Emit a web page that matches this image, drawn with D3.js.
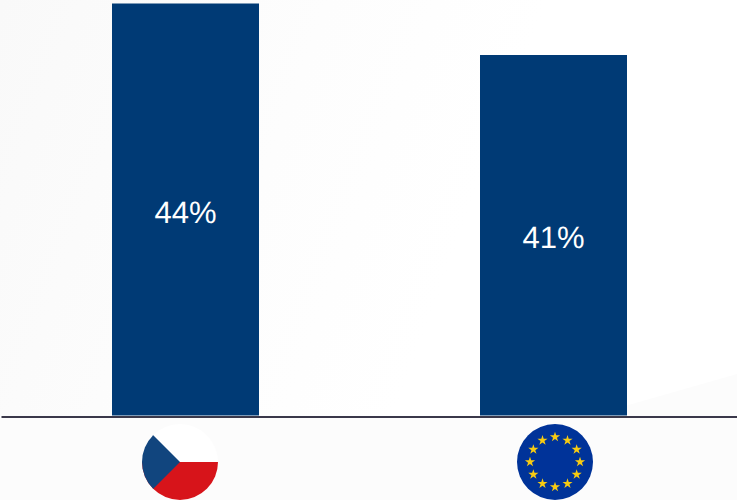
<!DOCTYPE html>
<html>
<head>
<meta charset="utf-8">
<script src="https://cdn.jsdelivr.net/npm/d3@7/dist/d3.min.js"></script>
<style>
html,body{margin:0;padding:0;background:#fff;}
svg{display:block;}
</style>
</head>
<body>
<svg id="chart" width="737" height="500"></svg>
<script>
const categories = ["CZ", "EU"];
const shares = [44, 41];
const valueDomain = [20, 44];

const width = 737, height = 500;
const baseY = 415.5, topY = 3.5;
const barColor = "#003A75";

const svg = d3.select("#chart");

// Soft backdrop: pale grey fading towards white
const defs = svg.append("defs");
const bg = defs.append("linearGradient").attr("id", "backdrop")
  .attr("x1", 0).attr("y1", 0).attr("x2", 1).attr("y2", 0.25);
bg.append("stop").attr("offset", 0).attr("stop-color", "#f9f9f9");
bg.append("stop").attr("offset", 0.42).attr("stop-color", "#fdfdfd");
bg.append("stop").attr("offset", 0.7).attr("stop-color", "#ffffff");
bg.append("stop").attr("offset", 1).attr("stop-color", "#ffffff");
svg.append("rect").attr("width", width).attr("height", height).attr("fill", "url(#backdrop)");

// Paler wedge in the lower corner and the band beneath the baseline
svg.append("path")
  .attr("d", d3.line()([[590, 416], [737, 374], [737, 500], [0, 500], [0, 416]]))
  .attr("fill", "#fcfcfc");

const x = d3.scalePoint().domain(categories).range([185.5, 553.5]);
const bandW = 147;
const y = d3.scaleLinear().domain(valueDomain).range([baseY, topY]);

// Bars and their value labels
const groups = svg.selectAll("g.bar").data(categories.map((c, i) => ({c, v: shares[i]})))
  .join("g").attr("class", "bar");
groups.append("rect")
  .attr("x", d => x(d.c) - bandW / 2)
  .attr("width", bandW)
  .attr("y", d => y(d.v))
  .attr("height", d => baseY - y(d.v))
  .attr("fill", barColor);
groups.append("text")
  .attr("x", d => x(d.c))
  .attr("y", d => (y(d.v) + baseY) / 2 + 13)
  .attr("text-anchor", "middle")
  .attr("font-family", "'Liberation Sans', Arial, sans-serif")
  .attr("font-size", 31)
  .attr("text-rendering", "geometricPrecision")
  .attr("fill", "#ffffff")
  .text(d => d.v + "%");

// Axis baseline
const axis = d3.axisBottom(d3.scaleLinear().domain([0, 1]).range([1, width])).ticks(0).tickSize(0);
const axisG = svg.append("g").attr("transform", `translate(0,${baseY + 1})`).call(axis);
axisG.select(".domain").attr("stroke", "#3a384a").attr("stroke-width", 2);

// Round flag badges under each bar
const flagY = 462, flagR = 38;

const cz = svg.append("g").attr("transform", `translate(${x("CZ") - 5.5},${flagY})`);
const clip = defs.append("clipPath").attr("id", "czClip");
clip.append("circle").attr("r", flagR);
cz.append("circle").attr("r", flagR).attr("fill", "#ffffff");
const czInner = cz.append("g").attr("clip-path", "url(#czClip)");
czInner.append("rect").attr("x", -flagR).attr("y", 0).attr("width", 2 * flagR).attr("height", flagR).attr("fill", "#D7141A");
czInner.append("path").attr("d", d3.line()([[0, 0], [-flagR, -flagR], [-flagR, flagR]])).attr("fill", "#11457E");

const eu = svg.append("g").attr("transform", `translate(${x("EU") + 1.5},${flagY})`);
eu.append("circle").attr("r", flagR).attr("fill", "#003399");
eu.selectAll("path").data(d3.range(12)).join("path")
  .attr("d", d3.symbol(d3.symbolStar, 32))
  .attr("transform", i => {
    const a = i * Math.PI / 6;
    return `translate(${25 * Math.sin(a)},${-25 * Math.cos(a)})`;
  })
  .attr("fill", "#F7CB12");
</script>
</body>
</html>
